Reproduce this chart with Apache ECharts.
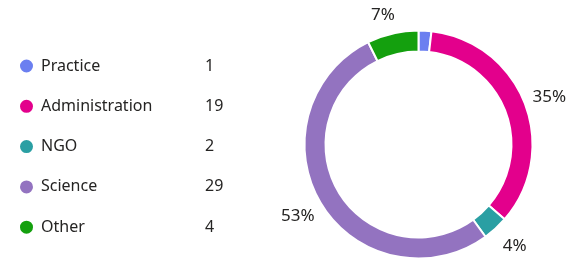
<!DOCTYPE html>
<html>
<head>
<meta charset="utf-8">
<script src="https://cdn.jsdelivr.net/npm/echarts@6/dist/echarts.min.js"></script>
<style>
html,body{margin:0;padding:0;background:#fff;}
#c{width:573px;height:269px;}
</style>
</head>
<body>
<div id="c"></div>
<script>
const categories = ['Practice', 'Administration', 'NGO', 'Science', 'Other'];
const values = [1, 19, 2, 29, 4];
const colors = ['#6B7FF0', '#E3008C', '#2A9FA3', '#9373C0', '#14A00E'];

const total = values.reduce((a, b) => a + b, 0);
const valueOf = {};
categories.forEach((c, i) => { valueOf[c] = values[i]; });

const FONT = '"Noto Sans", "Open Sans", sans-serif';
const chart = echarts.init(document.getElementById('c'), null, { renderer: 'canvas' });

chart.setOption({
  animation: false,
  color: colors,
  legend: {
    orient: 'vertical',
    left: 13,
    top: 51,
    itemGap: 20.3,
    itemWidth: 15,
    itemHeight: 15,
    icon: 'circle',
    selectedMode: false,
    data: categories,
    formatter: name => '{n|' + name + '}{v|' + valueOf[name] + '}',
    textStyle: {
      fontFamily: FONT,
      fontSize: 16,
      lineHeight: 20,
      color: '#252423',
      padding: [0, 0, 0, 2],
      rich: {
        n: { width: 164, fontFamily: FONT, fontSize: 16, color: '#252423', lineHeight: 20 },
        v: { fontFamily: FONT, fontSize: 16, color: '#252423', lineHeight: 20 }
      }
    }
  },
  series: [{
    type: 'pie',
    center: [418.5, 144.5],
    radius: [93, 114],
    startAngle: 90,
    clockwise: true,
    avoidLabelOverlap: false,
    itemStyle: { borderColor: '#ffffff', borderWidth: 2 },
    label: {
      show: true,
      position: 'outside',
      fontFamily: FONT,
      fontSize: 17,
      color: '#252423',
      formatter: p => Math.round(p.value / total * 100) + '%'
    },
    labelLine: { show: false, length: 21, length2: 0 },
    labelLayout: () => ({ align: 'center', verticalAlign: 'middle', dy: 2 }),
    emphasis: { disabled: true },
    data: categories.map((c, i) => ({
      name: c,
      value: values[i],
      label: { show: values[i] / total >= 0.03 }
    }))
  }]
});
</script>
</body>
</html>
